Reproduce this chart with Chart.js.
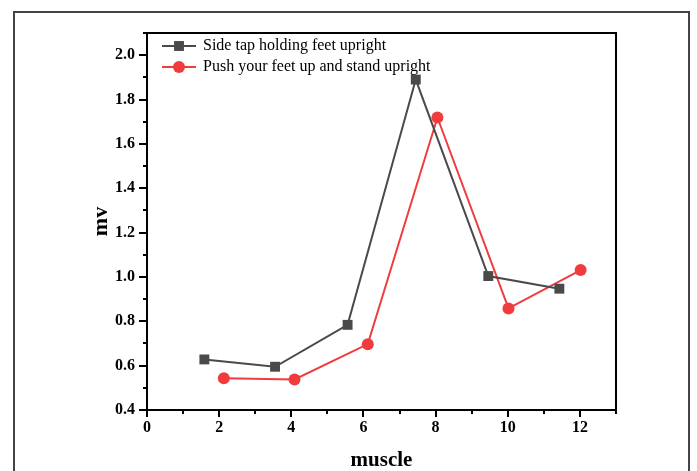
<!DOCTYPE html>
<html>
<head>
<meta charset="utf-8">
<script src="https://cdn.jsdelivr.net/npm/chart.js@4"></script>
<style>
html,body{margin:0;padding:0;background:#fff;}
#wrap{position:relative;width:697px;height:471px;}
</style>
</head>
<body>
<div id="wrap"><canvas id="c" width="697" height="471"></canvas></div>
<script>
const seriesNames = ["Side tap holding feet upright", "Push your feet up and stand upright"];
const sideTapX = [1.59, 3.55, 5.56, 7.45, 9.46, 11.43];
const sideTapY = [0.628, 0.595, 0.784, 1.890, 1.004, 0.947];
const pushUpX = [2.13, 4.09, 6.12, 8.05, 10.02, 12.02];
const pushUpY = [0.543, 0.538, 0.697, 1.719, 0.858, 1.031];
const xTitle = "muscle";
const yTitle = "mv";

const toPoints = (xs, ys) => xs.map((x, i) => ({x: x, y: ys[i]}));

const frame = {
  id: 'frame',
  afterDraw(chart) {
    const ctx = chart.ctx;
    const a = chart.chartArea;
    ctx.save();
    // outer frame
    ctx.strokeStyle = '#444';
    ctx.lineWidth = 2;
    ctx.beginPath();
    ctx.moveTo(14, 475);
    ctx.lineTo(14, 12);
    ctx.lineTo(689, 12);
    ctx.lineTo(689, 475);
    ctx.stroke();
    // plot box
    ctx.strokeStyle = '#000';
    ctx.lineWidth = 2;
    ctx.strokeRect(a.left, a.top, a.right - a.left, a.bottom - a.top);
    // ticks
    const xs = chart.scales.x;
    xs.ticks.forEach(t => {
      const px = Math.round(xs.getPixelForValue(t.value));
      const major = Math.round(t.value) % 2 === 0;
      ctx.beginPath();
      ctx.moveTo(px, a.bottom);
      ctx.lineTo(px, a.bottom + (major ? 7 : 4));
      ctx.stroke();
    });
    const ys = chart.scales.y;
    ys.ticks.forEach(t => {
      const py = Math.round(ys.getPixelForValue(t.value));
      const major = Math.round(t.value * 10) % 2 === 0;
      ctx.beginPath();
      ctx.moveTo(a.left, py);
      ctx.lineTo(a.left - (major ? 8 : 4), py);
      ctx.stroke();
    });
    // legend
    ctx.font = '16px "Liberation Serif"';
    ctx.textBaseline = 'middle';
    ctx.textAlign = 'left';
    const rows = [46, 67];
    chart.data.datasets.forEach((ds, i) => {
      const y = rows[i];
      ctx.strokeStyle = ds.borderColor;
      ctx.lineWidth = 2;
      ctx.beginPath();
      ctx.moveTo(162, y);
      ctx.lineTo(196, y);
      ctx.stroke();
      ctx.fillStyle = ds.pointBackgroundColor;
      ctx.beginPath();
      if (ds.pointStyle === 'rect') {
        const s = Math.SQRT1_2 * ds.pointRadius;
        ctx.rect(179 - s, y - s, 2 * s, 2 * s);
      } else {
        ctx.arc(179, y, ds.pointRadius, 0, Math.PI * 2);
      }
      ctx.fill();
      ctx.fillStyle = '#000';
      ctx.fillText(ds.label, 203, y);
    });
    ctx.restore();
  }
};

new Chart(document.getElementById('c'), {
  type: 'scatter',
  data: {
    datasets: [
      {
        label: seriesNames[0],
        data: toPoints(sideTapX, sideTapY),
        showLine: true,
        borderColor: '#4a4a4a',
        backgroundColor: '#4a4a4a',
        pointBackgroundColor: '#4a4a4a',
        pointBorderWidth: 0,
        borderWidth: 2,
        pointStyle: 'rect',
        pointRadius: 7,
        pointHoverRadius: 7
      },
      {
        label: seriesNames[1],
        data: toPoints(pushUpX, pushUpY),
        showLine: true,
        borderColor: '#f03c3c',
        backgroundColor: '#f03c3c',
        pointBackgroundColor: '#f03c3c',
        pointBorderWidth: 0,
        borderWidth: 2,
        pointStyle: 'circle',
        pointRadius: 6,
        pointHoverRadius: 6
      }
    ]
  },
  options: {
    responsive: false,
    animation: false,
    devicePixelRatio: 1,
    layout: {padding: {left: 0, top: 33, right: 81, bottom: 0}},
    plugins: {legend: {display: false}, tooltip: {enabled: false}},
    scales: {
      x: {
        type: 'linear',
        min: 0, max: 13,
        grid: {display: false},
        border: {display: false},
        afterFit(s) { s.height = 61; },
        ticks: {
          stepSize: 1,
          autoSkip: false,
          maxRotation: 0,
          padding: 0,
          color: '#000',
          font: {family: '"Liberation Serif"', size: 16, weight: 'bold'},
          callback: v => (Math.round(v) % 2 === 0 ? String(Math.round(v)) : '')
        },
        title: {
          display: true, text: xTitle, color: '#000',
          font: {family: '"Liberation Serif"', size: 21, weight: 'bold', lineHeight: 1},
          padding: {top: 0, bottom: 0}
        }
      },
      y: {
        type: 'linear',
        min: 0.4, max: 2.1,
        grid: {display: false},
        border: {display: false},
        afterFit(s) { s.width = 147; },
        ticks: {
          stepSize: 0.1,
          autoSkip: false,
          padding: 4,
          color: '#000',
          font: {family: '"Liberation Serif"', size: 16, weight: 'bold'},
          callback: v => { const k = Math.round(v * 10); return k % 2 === 0 ? (k / 10).toFixed(1) : ''; }
        },
        title: {
          display: true, text: yTitle, color: '#000',
          font: {family: '"Liberation Serif"', size: 22, weight: 'bold', lineHeight: 1},
          padding: {top: 90, bottom: 0}
        }
      }
    }
  },
  plugins: [frame]
});
</script>
</body>
</html>
